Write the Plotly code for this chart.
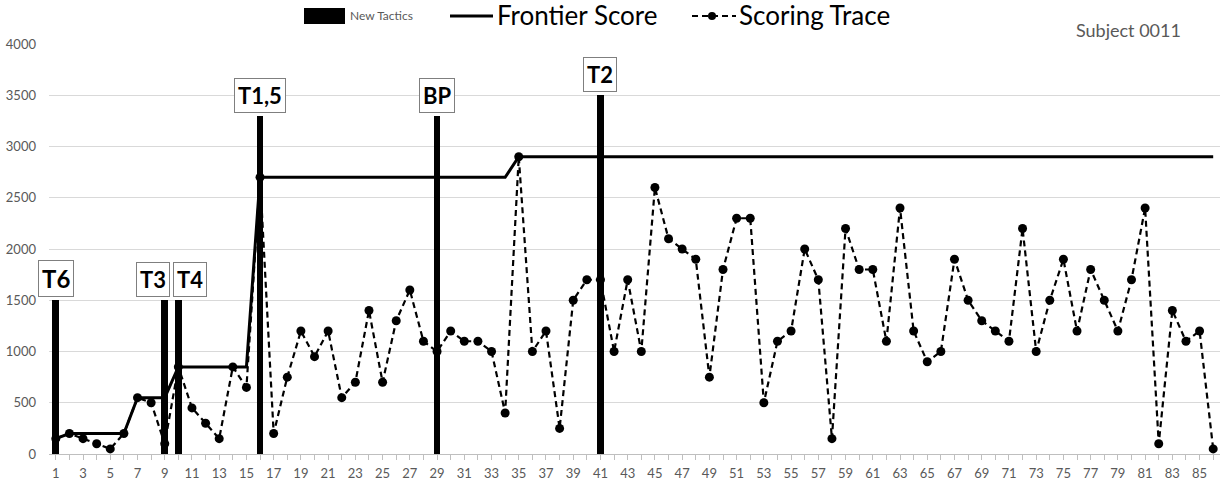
import plotly.graph_objects as go

# ---------------- data ----------------
trials = list(range(1, 87))

scoring_trace = [
    150, 200, 150, 100, 50, 200, 550, 500, 100, 850,
    450, 300, 150, 850, 650, 2700, 200, 750, 1200, 950,
    1200, 550, 700, 1400, 700, 1300, 1600, 1100, 1000, 1200,
    1100, 1100, 1000, 400, 2900, 1000, 1200, 250, 1500, 1700,
    1700, 1000, 1700, 1000, 2600, 2100, 2000, 1900, 750, 1800,
    2300, 2300, 500, 1100, 1200, 2000, 1700, 150, 2200, 1800,
    1800, 1100, 2400, 1200, 900, 1000, 1900, 1500, 1300, 1200,
    1100, 2200, 1000, 1500, 1900, 1200, 1800, 1500, 1200, 1700,
    2400, 100, 1400, 1100, 1200, 50,
]

frontier_score = (
    [150] + [200] * 5 + [550] * 3 + [850] * 6 + [2700] * 19 + [2900] * 52
)

tactic_trials = [1, 9, 10, 16, 29, 41]
tactic_heights = [1500, 1500, 1500, 3300, 3300, 3500]
tactic_labels = ["T6", "T3", "T4", "T1,5", "BP", "T2"]

x_tick_vals = trials
x_tick_text = [str(t) if t % 2 == 1 else "" for t in trials]
y_tick_vals = [0, 500, 1000, 1500, 2000, 2500, 3000, 3500, 4000]

# ---------------- layout constants ----------------
W, H = 1225, 486
ML, MR, MT, MB = 49, 5, 44, 32
PW, PH = W - ML - MR, H - MT - MB
FONT = "Lato"
GREY = "#595959"


def px(xp):
    return (xp - ML) / PW


def py(yp):
    return (H - MB - yp) / PH


label_xshift = [0, -12, 12, 0, 0, 0]
label_size = [24, 22, 22, 22, 22, 22]

fig = go.Figure()

fig.add_trace(go.Bar(
    x=tactic_trials, y=tactic_heights, width=0.5,
    marker=dict(color="black", line=dict(width=0)),
    name="New Tactics", showlegend=False, hoverinfo="skip",
))

fig.add_trace(go.Scatter(
    x=trials, y=frontier_score, mode="lines",
    line=dict(color="black", width=3),
    name="Frontier Score", showlegend=False,
))

fig.add_trace(go.Scatter(
    x=trials, y=scoring_trace, mode="lines+markers",
    line=dict(color="black", width=2.2, dash="6px,4px"),
    marker=dict(color="black", size=9),
    name="Scoring Trace", showlegend=False,
))

annotations = []
for t, h, lab, xs, fs in zip(tactic_trials, tactic_heights, tactic_labels,
                             label_xshift, label_size):
    annotations.append(dict(
        x=t, y=h, xref="x", yref="y", text="<b>%s</b>" % lab,
        showarrow=False, yanchor="bottom", yshift=3, xshift=xs,
        font=dict(family=FONT, size=fs, color="black"),
        bgcolor="white", bordercolor="#7f7f7f", borderwidth=1, borderpad=3,
    ))

# Subject label
annotations.append(dict(
    x=px(1074), y=py(30), xref="paper", yref="paper", text="Subject 0011",
    showarrow=False, xanchor="left", yanchor="middle",
    font=dict(family=FONT, size=18, color=GREY),
))

# custom legend texts
annotations.append(dict(
    x=px(348), y=py(16), xref="paper", yref="paper", text="New Tactics",
    showarrow=False, xanchor="left", yanchor="middle",
    font=dict(family=FONT, size=12, color=GREY),
))
annotations.append(dict(
    x=px(495), y=py(15), xref="paper", yref="paper", text="Frontier Score",
    showarrow=False, xanchor="left", yanchor="middle",
    font=dict(family=FONT, size=26, color="black"),
))
annotations.append(dict(
    x=px(737), y=py(15), xref="paper", yref="paper", text="Scoring Trace",
    showarrow=False, xanchor="left", yanchor="middle",
    font=dict(family=FONT, size=26, color="black"),
))

shapes = [
    dict(type="rect", xref="paper", yref="paper",
         x0=px(304), x1=px(345), y0=py(24), y1=py(8),
         fillcolor="black", line=dict(width=0)),
    dict(type="line", xref="paper", yref="paper",
         x0=px(450), x1=px(493), y0=py(16), y1=py(16),
         line=dict(color="black", width=3)),
    dict(type="line", xref="paper", yref="paper",
         x0=px(692), x1=px(736), y0=py(16), y1=py(16),
         line=dict(color="black", width=2.2, dash="6px,4px")),
    dict(type="circle", xref="paper", yref="paper",
         x0=px(708), x1=px(716), y0=py(20), y1=py(12),
         fillcolor="black", line=dict(width=0)),
]

fig.update_layout(
    width=W, height=H,
    margin=dict(l=ML, r=MR, t=MT, b=MB, pad=0),
    paper_bgcolor="white", plot_bgcolor="white",
    font=dict(family=FONT, color=GREY),
    showlegend=False,
    bargap=0,
    annotations=annotations,
    shapes=shapes,
    xaxis=dict(
        range=[0.5, 86.5], tickmode="array",
        tickvals=x_tick_vals, ticktext=x_tick_text,
        ticks="outside", ticklen=5, tickcolor="#bfbfbf", tickwidth=1,
        showline=True, linecolor="#bfbfbf", linewidth=1,
        showgrid=False, zeroline=False,
        tickfont=dict(family=FONT, size=13, color=GREY),
        ticklabelstandoff=2,
    ),
    yaxis=dict(
        range=[0, 4000], tickmode="array", tickvals=y_tick_vals,
        showgrid=True, gridcolor="#d9d9d9", gridwidth=1,
        zeroline=False, showline=False, ticks="",
        tickfont=dict(family=FONT, size=13, color=GREY),
        ticklabelstandoff=12,
    ),
)

fig.write_html(
    "out.html",
    config={"displayModeBar": False},
    post_script="document.body.style.margin='0px';"
                "document.body.style.overflow='hidden';",
)
